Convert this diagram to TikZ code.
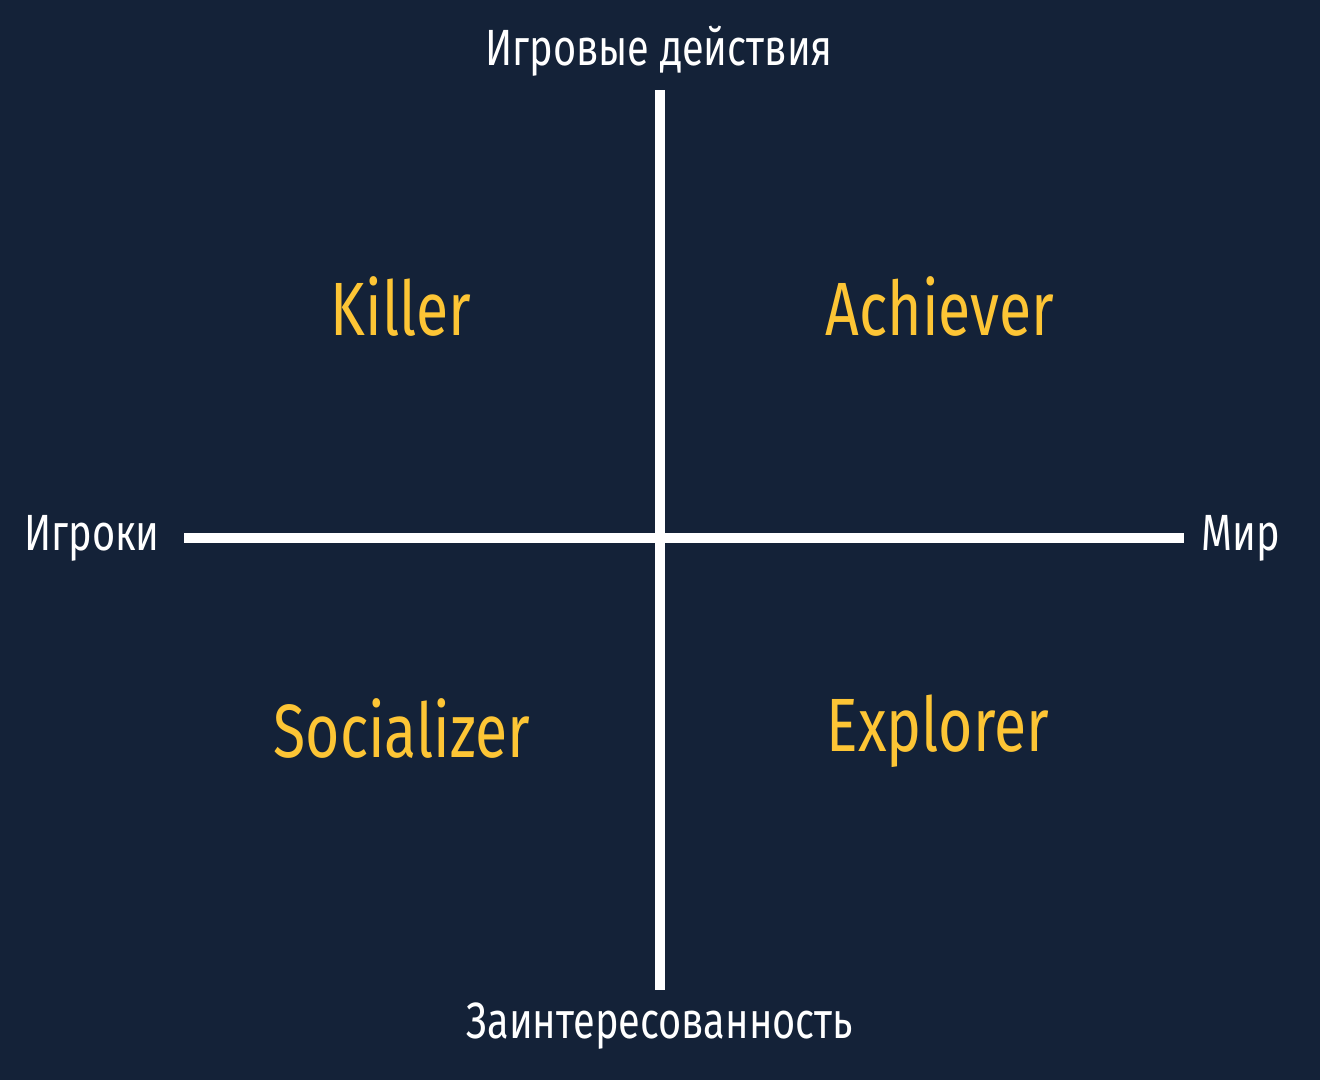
\documentclass[tikz,border=0pt]{standalone}
\usepackage{fontspec}
\setmainfont{Fira Sans}[FakeStretch=0.78]
\usepackage{tikz}
\definecolor{bgblue}{HTML}{142238}
\definecolor{typeyellow}{HTML}{FDC535}
\tikzstyle{axis}=[draw,white,line width=10*0.02cm]
\tikzset{
  axislabel/.style = {white, inner sep=0pt, font=\fontsize{29}{30}\selectfont},
  typelabel/.style = {typeyellow, inner sep=0pt, font=\fontsize{43}{44}\selectfont},
}
\begin{document}
\begin{tikzpicture}[x=0.02cm,y=-0.02cm]
    \fill[bgblue] (0,0) rectangle (1320,1080);

    \coordinate (top) at (660,90);
    \coordinate (bottom) at (660,990);
    \coordinate (left) at (184,538);
    \coordinate (right) at (1184,538);

    \path[axis] (top) -- (bottom);
    \path[axis] (left) -- (right);

    \node[axislabel] (actions) at (659,51) {Игровые действия};
    \node[axislabel] (interest) at (660,1026) {Заинтересованность};
    \node[axislabel] (players) at (92,538) {Игроки};
    \node[axislabel] (world) at (1241,538) {Мир};

    \node[typelabel] (killer) at (401,306) {Killer};
    \node[typelabel] (achiever) at (940,306) {Achiever};
    \node[typelabel] (socializer) at (402,728) {Socializer};
    \node[typelabel] (explorer) at (938,731) {Explorer};

    \pgfresetboundingbox
    \path [use as bounding box] (0,0) rectangle (1320,1080);
\end{tikzpicture}
\end{document}
